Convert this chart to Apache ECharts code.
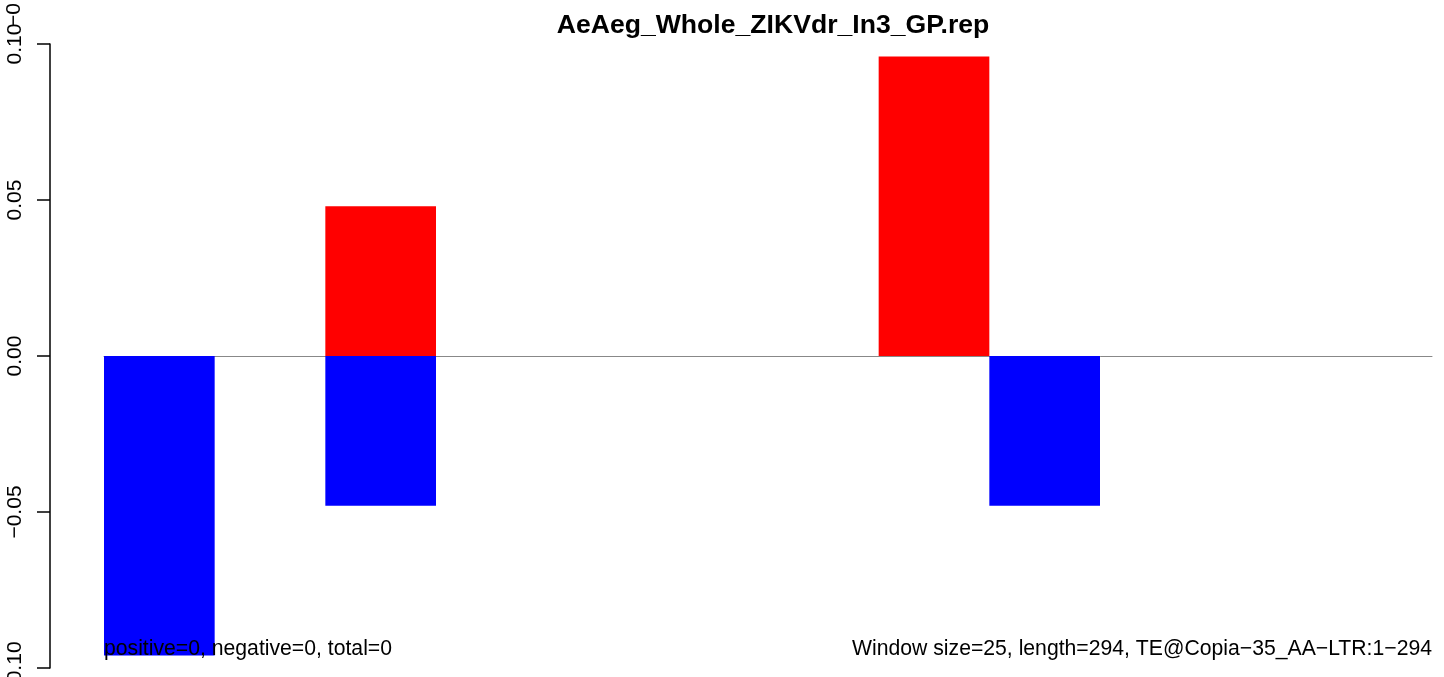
<!DOCTYPE html>
<html><head><meta charset="utf-8">
<script src="https://cdn.jsdelivr.net/npm/echarts@6/dist/echarts.min.js"></script>
<style>html,body{margin:0;padding:0;background:#fff}#c{width:1444px;height:677px}</style>
</head><body><div id="c"></div>
<script>
const titleText = 'AeAeg_Whole_ZIKVdr_In3_GP.rep';
const leftNote = 'positive=0, negative=0, total=0';
const rightNote = 'Window size=25, length=294, TE@Copia\u221235_AA\u2212LTR:1\u2212294';
const categories = ['1','2','3','4','5','6','7','8','9','10','11','12'];
const positiveValues = [0, 0, 0.048, 0, 0, 0, 0, 0.096, 0, 0, 0, 0];
const negativeValues = [-0.096, 0, -0.048, 0, 0, 0, 0, 0, -0.048, 0, 0, 0];
const yTicks = [-0.10, -0.05, 0.00, 0.05, 0.10];

const font = 'Liberation Sans, Arial, Helvetica, sans-serif';
const chart = echarts.init(document.getElementById('c'));
chart.setOption({
  animation: false,
  title: {
    text: titleText, left: 768, top: 7, textAlign: 'center',
    textStyle: { fontFamily: font, fontWeight: 'bold', fontSize: 26.6, color: '#000' }
  },
  grid: { left: 104, right: 12, top: 44, bottom: 9, containLabel: false, outerBoundsMode: 'none' },
  xAxis: {
    type: 'category', data: categories,
    axisLine: { onZero: true, lineStyle: { color: '#888', width: 1 } },
    axisTick: { show: false }, axisLabel: { show: false }, splitLine: { show: false }
  },
  yAxis: {
    type: 'value', min: -0.1, max: 0.1, interval: 0.05, offset: 54,
    axisLine: { show: true, lineStyle: { color: '#000', width: 1.5 } },
    axisTick: { show: true, length: 13, lineStyle: { color: '#000', width: 1.5 } },
    splitLine: { show: false },
    axisLabel: {
      rotate: 90, margin: 24, fontFamily: font, fontSize: 21, color: '#000',
      formatter: v => {
        const t = yTicks.find(x => Math.abs(x - v) < 1e-9);
        const s = Math.abs(t).toFixed(2);
        return (t < -1e-9 ? '\u2212' : '') + s;
      }
    }
  },
  graphic: [
    { type: 'text', left: 104, top: 639, z: 100, style: { text: leftNote, fontFamily: font, fontSize: 21.2, fill: '#000' } },
    { type: 'text', right: 12, top: 639, z: 100, style: { text: rightNote, fontFamily: font, fontSize: 21.2, fill: '#000' } },
    { type: 'text', x: 14, y: 27, rotation: Math.PI / 2, z: 100,
      style: { text: '\u22120', fontFamily: font, fontSize: 21, fill: '#000', align: 'left', verticalAlign: 'middle' } }
  ],
  series: [
    { name: 'positive', type: 'bar', stack: 's', data: positiveValues, barCategoryGap: 0, barGap: '-100%',
      itemStyle: { color: '#ff0000' } },
    { name: 'negative', type: 'bar', stack: 's', data: negativeValues, barCategoryGap: 0,
      itemStyle: { color: '#0000ff' } }
  ]
});
</script></body></html>
